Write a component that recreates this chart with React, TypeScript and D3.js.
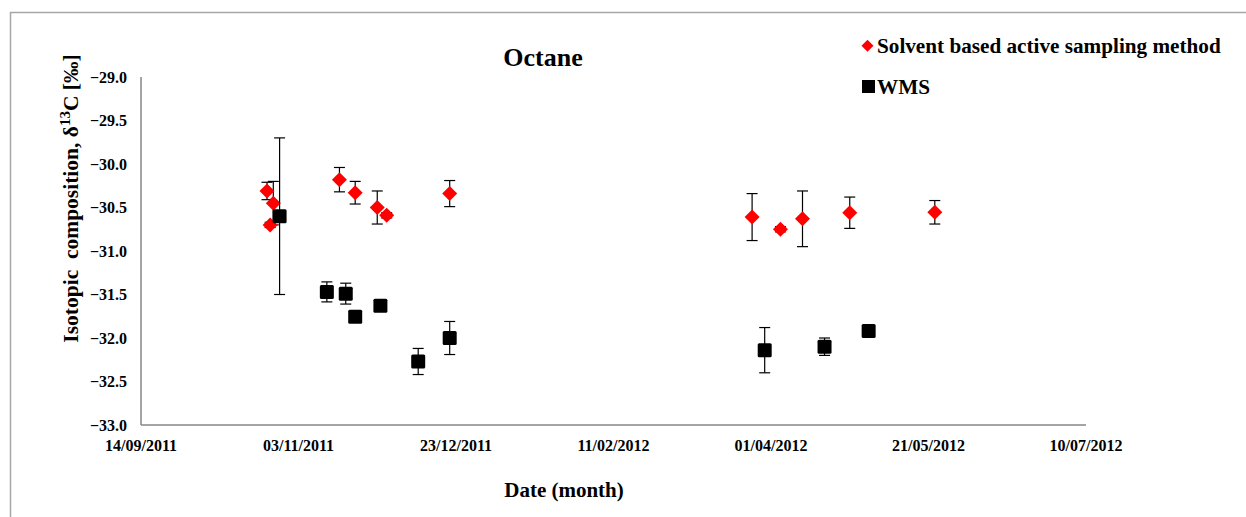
import React from "react";
import * as d3 from "d3";

const solventDates = ["24/10/2011","26/10/2011","25/10/2011","16/11/2011","21/11/2011","28/11/2011","01/12/2011","21/12/2011","26/03/2012","04/04/2012","11/04/2012","26/04/2012","23/05/2012"];
const solventValues = [-30.31,-30.45,-30.70,-30.18,-30.33,-30.50,-30.59,-30.34,-30.61,-30.75,-30.63,-30.56,-30.555];
const solventErrors = [0.10,0.25,0.03,0.14,0.13,0.19,0.03,0.15,0.27,0.03,0.32,0.18,0.135];

const wmsDates = ["28/10/2011","12/11/2011","18/11/2011","21/11/2011","29/11/2011","11/12/2011","21/12/2011","30/03/2012","18/04/2012","02/05/2012"];
const wmsValues = [-30.60,-31.47,-31.49,-31.755,-31.63,-32.27,-32.00,-32.14,-32.10,-31.92];
const wmsErrors = [0.90,0.115,0.12,0.02,0.05,0.15,0.19,0.26,0.10,0.03];

const xTickLabels = ["14/09/2011","03/11/2011","23/12/2011","11/02/2012","01/04/2012","21/05/2012","10/07/2012"];
const yTicks = [-29.0,-29.5,-30.0,-30.5,-31.0,-31.5,-32.0,-32.5,-33.0];

const FONT = "'Liberation Serif', 'Times New Roman', serif";

export default function App() {
  const W = 1246, H = 517;
  const parse = d3.utcParse("%d/%m/%Y");
  const left = 141, right = 1086, top = 77, bottom = 425;
  const x = d3.scaleUtc()
    .domain([parse(xTickLabels[0])!, parse(xTickLabels[xTickLabels.length - 1])!])
    .range([left, right]);
  const y = d3.scaleLinear().domain([-33, -29]).range([bottom, top]);
  const fmt = d3.format(".1f");

  const solvent = solventDates.map((d, i) => ({ x: x(parse(d)!), v: solventValues[i], e: solventErrors[i] }));
  const wms = wmsDates.map((d, i) => ({ x: x(parse(d)!), v: wmsValues[i], e: wmsErrors[i] }));

  const diamond = (cx: number, cy: number, r: number) =>
    `M${cx},${cy - r}L${cx + r},${cy}L${cx},${cy + r}L${cx - r},${cy}Z`;

  const errBars = (pts: { x: number; v: number; e: number }[], key: string) =>
    pts.map((p, i) => {
      const y1 = y(p.v + p.e), y2 = y(p.v - p.e);
      return (
        <g key={key + i} stroke="#000" strokeWidth={1.2}>
          <line x1={p.x} x2={p.x} y1={y1} y2={y2} />
          <line x1={p.x - 5.5} x2={p.x + 5.5} y1={y1} y2={y1} />
          <line x1={p.x - 5.5} x2={p.x + 5.5} y1={y2} y2={y2} />
        </g>
      );
    });

  return (
    <svg width={W} height={H} style={{ position: "absolute", left: 0, top: 0, background: "#fff" }} fontFamily={FONT}>
      <rect x={10.5} y={12.5} width={1250} height={520} fill="#fff" stroke="#a6a6a6" strokeWidth={1.5} />
      {/* axes */}
      <line x1={left} x2={left} y1={top} y2={bottom} stroke="#868686" strokeWidth={1.5} />
      <line x1={left} x2={right} y1={bottom} y2={bottom} stroke="#868686" strokeWidth={1.5} />
      {yTicks.map((t) => (
        <text key={"y" + t} x={127} y={y(t) + 5.5} textAnchor="end" fontSize={16} fontWeight="bold">{fmt(t)}</text>
      ))}
      {xTickLabels.map((t) => (
        <text key={"x" + t} x={x(parse(t)!)} y={450.5} textAnchor="middle" fontSize={16} fontWeight="bold">{t}</text>
      ))}
      {/* titles */}
      <text x={543} y={66} textAnchor="middle" fontSize={26} fontWeight="bold">Octane</text>
      <text x={564} y={497} textAnchor="middle" fontSize={21} fontWeight="bold">Date (month)</text>
      <text transform="translate(77.5,198.5) rotate(-90)" textAnchor="middle" fontSize={21.5} fontWeight="bold" style={{ whiteSpace: "pre" }}>
        {"Isotopic  composition, δ"}
        <tspan fontSize={15} dy={-8}>13</tspan>
        <tspan dy={8}>{"C [‰]"}</tspan>
      </text>
      {/* series */}
      {errBars(solvent, "se")}
      {solvent.map((p, i) => (
        <path key={"s" + i} d={diamond(p.x, y(p.v), 7.5)} fill="#ff0000" />
      ))}
      {errBars(wms, "we")}
      {wms.map((p, i) => (
        <rect key={"w" + i} x={p.x - 7} y={y(p.v) - 7} width={14} height={14} rx={1.5} fill="#000" />
      ))}
      {/* legend */}
      <path d={diamond(867.5, 45.8, 6)} fill="#ff0000" />
      <text x={877} y={53} fontSize={21.2} fontWeight="bold">Solvent based active sampling method</text>
      <rect x={862} y={80} width={13} height={13} fill="#000" />
      <text x={877} y={94} fontSize={21.2} fontWeight="bold">WMS</text>
    </svg>
  );
}
